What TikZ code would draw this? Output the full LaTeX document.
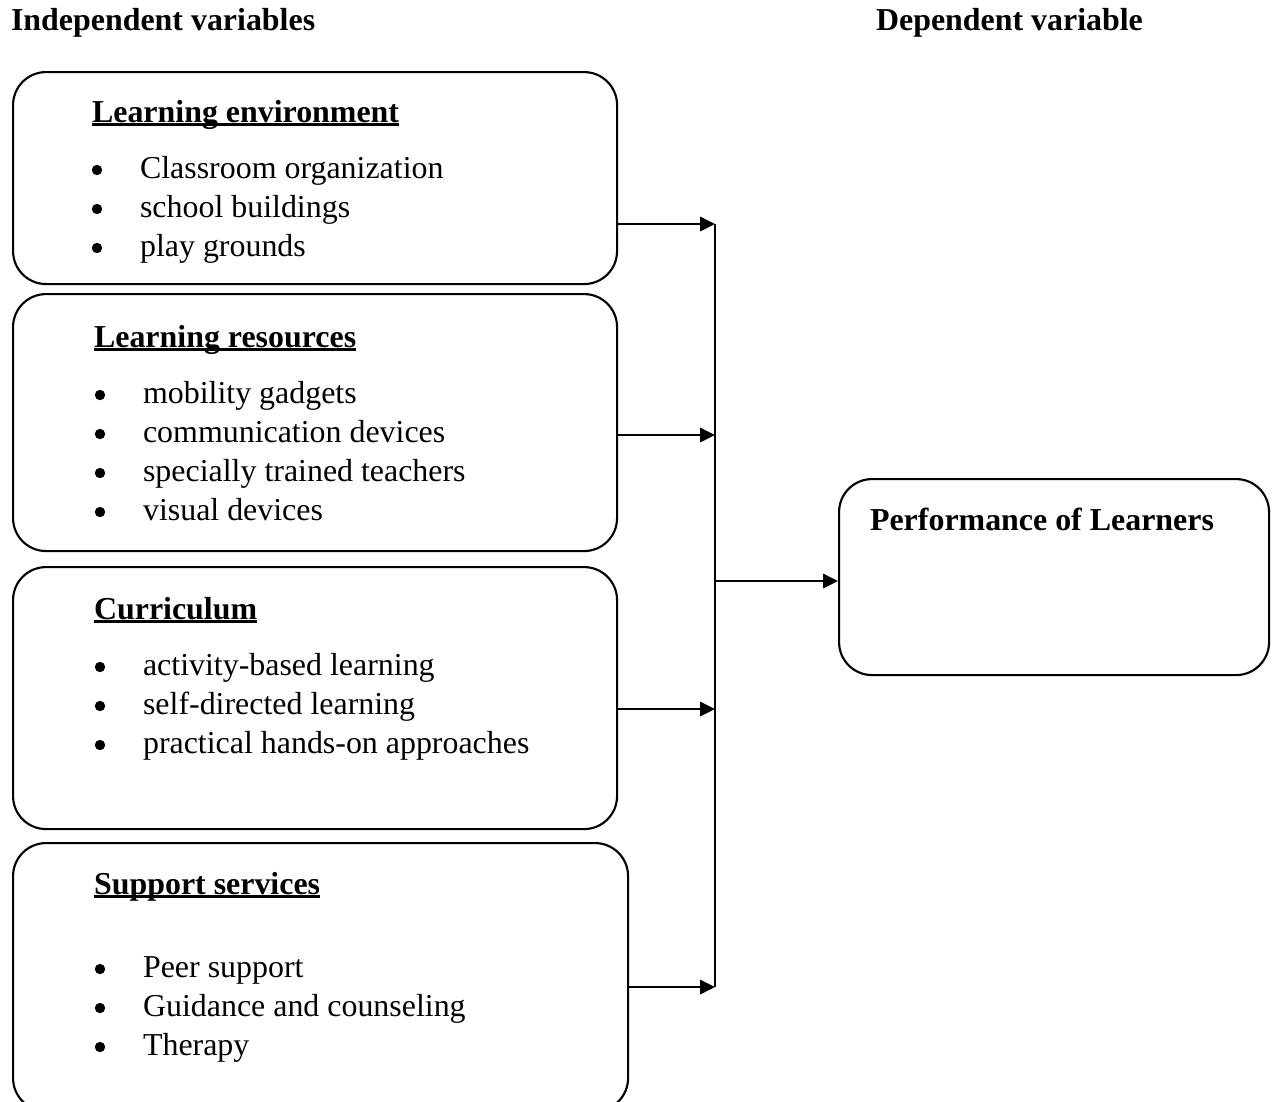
\documentclass[tikz,border=0pt]{standalone}
\usepackage{fontspec}
\setmainfont{Liberation Serif}
\usetikzlibrary{arrows.meta}
\newcommand{\pxu}{0.376pt}
\newcommand{\ulhead}[1]{\setbox0\hbox{#1}\rlap{\vrule width \wd0 height -0.4pt depth 1.5pt}\box0}

\begin{document}
\begin{tikzpicture}[x=\pxu, y=-\pxu, line width=0.8pt,
    varbox/.style={draw, rounded corners=12.4pt, anchor=north west, inner sep=0pt},
    boxtitle/.style={anchor=base west, inner sep=0pt, font=\fontsize{12}{14}\selectfont\bfseries},
    itemtext/.style={anchor=base west, inner sep=0pt, font=\fontsize{12}{14}\selectfont},
    bulletmark/.style={circle, fill, inner sep=0pt, minimum size=3.9pt},
    arr/.style={-{Triangle[length=5.6pt,width=5.4pt]}}]
  \useasboundingbox (0,0) rectangle (1276,1101);

  % headings
  \node[boxtitle] (indep) at (10,30) {Independent variables};
  \node[boxtitle] (dep) at (875,30) {Dependent variable};

  % independent variables
  \node[varbox, minimum width=604*\pxu, minimum height=212*\pxu] (envbox) at (12,71) {};
  \node[boxtitle] (envtitle) at (91,122) {\ulhead{Learning environment}};
  \foreach \txt [count=\i] in {Classroom organization, school buildings, play grounds} {
    \node[bulletmark] (envdot\i) at (97,131+39*\i) {};
    \node[itemtext] (envitem\i) at (139,139+39*\i) {\txt};
  }

  \node[varbox, minimum width=604*\pxu, minimum height=257*\pxu] (resbox) at (12,293) {};
  \node[boxtitle] (restitle) at (93,347) {\ulhead{Learning resources}};
  \foreach \txt [count=\i] in {mobility gadgets, communication devices, specially trained teachers, visual devices} {
    \node[bulletmark] (resdot\i) at (100,356+39*\i) {};
    \node[itemtext] (resitem\i) at (142,364+39*\i) {\txt};
  }

  \node[varbox, minimum width=604*\pxu, minimum height=262*\pxu] (curbox) at (12,566) {};
  \node[boxtitle] (curtitle) at (93,619) {\ulhead{Curriculum}};
  \foreach \txt [count=\i] in {activity-based learning, self-directed learning, practical hands-on approaches} {
    \node[bulletmark] (curdot\i) at (100,628+39*\i) {};
    \node[itemtext] (curitem\i) at (142,636+39*\i) {\txt};
  }

  \node[varbox, minimum width=615*\pxu, minimum height=268*\pxu] (supbox) at (12,842) {};
  \node[boxtitle] (suptitle) at (93,894) {\ulhead{Support services}};
  \foreach \txt [count=\i] in {Peer support, Guidance and counseling, Therapy} {
    \node[bulletmark] (supdot\i) at (100,930+39*\i) {};
    \node[itemtext] (supitem\i) at (142,938+39*\i) {\txt};
  }

  % dependent variable
  \node[varbox, minimum width=430*\pxu, minimum height=196*\pxu] (perfbox) at (838,478) {};
  \node[boxtitle] (perftitle) at (869,530) {Performance of Learners};

  % connectors
  \coordinate (busA) at (715,224);
  \coordinate (busB) at (715,435);
  \coordinate (busC) at (715,709);
  \coordinate (busD) at (715,987);
  \coordinate (busOut) at (715,581);
  \draw[arr] (envbox.east |- busA) -- (busA);
  \draw[arr] (resbox.east |- busB) -- (busB);
  \draw[arr] (curbox.east |- busC) -- (busC);
  \draw[arr] (supbox.east |- busD) -- (busD);
  \draw (busA) -- (busD);
  \draw[arr] (busOut) -- (perfbox.west |- busOut);
\end{tikzpicture}
\end{document}
